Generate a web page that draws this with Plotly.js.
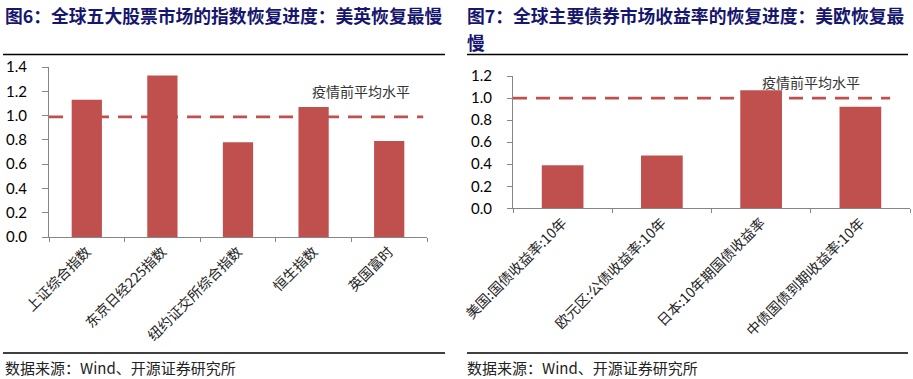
<!DOCTYPE html>
<html>
<head>
<meta charset="utf-8">
<script src="https://cdn.plot.ly/plotly-3.0.1.min.js"></script>
<style>html,body{margin:0;padding:0;background:#fff;}#chart{width:913px;height:379px;}</style>
</head>
<body>
<div id="chart"></div>
<script>
// ---- data ----
const stockCategories = ["上证综合指数", "东京日经225指数", "纽约证交所综合指数", "恒生指数", "英国富时"];
const stockValues = [1.13, 1.33, 0.78, 1.07, 0.79];
const stockPreLevel = 0.99;

const bondCategories = ["美国:国债收益率:10年", "欧元区:公债收益率:10年", "日本:10年期国债收益率", "中债国债到期收益率:10年"];
const bondValues = [0.39, 0.48, 1.07, 0.92];
const bondPreLevel = 1.0;

const title6 = "图6：全球五大股票市场的指数恢复进度：美英恢复最慢";
const title7a = "图7：全球主要债券市场收益率的恢复进度：美欧恢复最";
const title7b = "慢";
const sourceText = "数据来源：Wind、开源证券研究所";
const refLabel = "疫情前平均水平";

// ---- style ----
const W = 913, H = 379;
const barColor = "#C0504D";
const cjk = "'Noto Sans CJK SC', sans-serif";
const num = "Lato, 'Open Sans', sans-serif";
const py = p => 1 - p / H;   // pixel y -> paper
const px = p => p / W;       // pixel x -> paper

const axisCommon = {
  showgrid: false, zeroline: false, showline: true, linecolor: "#868686", linewidth: 1,
  ticks: "outside", tickcolor: "#868686", ticklen: 5, fixedrange: true
};

const traces = [
  { type: "bar", x: stockCategories, y: stockValues, xaxis: "x", yaxis: "y",
    marker: { color: barColor }, width: 0.4, hoverinfo: "x+y" },
  { type: "bar", x: bondCategories, y: bondValues, xaxis: "x2", yaxis: "y2",
    marker: { color: barColor }, width: 0.42, hoverinfo: "x+y" }
];

const layout = {
  width: W, height: H, margin: { l: 0, r: 0, t: 0, b: 0 },
  paper_bgcolor: "#fff", plot_bgcolor: "#fff", showlegend: false,
  bargap: 0.6,
  xaxis: Object.assign({}, axisCommon, {
    domain: [px(49), px(427)], anchor: "y", type: "category", tickson: "boundaries",
    tickangle: -45, tickfont: { family: cjk, size: 14, color: "#222" }, ticklen: 4
  }),
  yaxis: Object.assign({}, axisCommon, {
    domain: [py(237), py(67)], anchor: "x", range: [0, 1.4], dtick: 0.2, tickformat: ".1f",
    tickfont: { family: num, size: 15, color: "#000" }, ticklen: 6, ticklabelstandoff: 12
  }),
  xaxis2: Object.assign({}, axisCommon, {
    domain: [px(513), px(910)], anchor: "y2", type: "category", tickson: "boundaries",
    tickangle: -45, tickfont: { family: cjk, size: 14, color: "#222" }, ticklen: 4
  }),
  yaxis2: Object.assign({}, axisCommon, {
    domain: [py(208.3), py(76)], anchor: "x2", range: [0, 1.2], dtick: 0.2, tickformat: ".1f",
    tickfont: { family: num, size: 15, color: "#000" }, ticklen: 5, ticklabelstandoff: 12
  }),
  shapes: [
    // reference dashed lines
    { type: "line", xref: "x domain", yref: "y", x0: 0, x1: 0.99, y0: stockPreLevel, y1: stockPreLevel,
      line: { color: barColor, width: 2.7, dash: "14px,9px" } },
    { type: "line", xref: "x2 domain", yref: "y2", x0: 0, x1: 0.95, y0: bondPreLevel, y1: bondPreLevel,
      line: { color: barColor, width: 2.7, dash: "14px,9px" } },
    // rules
    { type: "line", xref: "paper", yref: "paper", x0: px(3), x1: px(445), y0: py(54.5), y1: py(54.5), line: { color: "#000", width: 1.5 } },
    { type: "line", xref: "paper", yref: "paper", x0: px(467), x1: px(908), y0: py(54.5), y1: py(54.5), line: { color: "#000", width: 1.5 } },
    { type: "line", xref: "paper", yref: "paper", x0: px(3), x1: px(445), y0: py(353), y1: py(353), line: { color: "#000", width: 1.5 } },
    { type: "line", xref: "paper", yref: "paper", x0: px(467), x1: px(908), y0: py(353), y1: py(353), line: { color: "#000", width: 1.5 } }
  ],
  annotations: [
    { text: title6, xref: "paper", yref: "paper", x: px(3), y: py(15), xanchor: "left", yanchor: "middle",
      showarrow: false, font: { family: cjk, size: 17.8, color: "#16166e", weight: "bold" } },
    { text: title7a, xref: "paper", yref: "paper", x: px(465), y: py(15), xanchor: "left", yanchor: "middle",
      showarrow: false, font: { family: cjk, size: 17.8, color: "#16166e", weight: "bold" } },
    { text: title7b, xref: "paper", yref: "paper", x: px(465), y: py(42), xanchor: "left", yanchor: "middle",
      showarrow: false, font: { family: cjk, size: 17.8, color: "#16166e", weight: "bold" } },
    { text: sourceText, xref: "paper", yref: "paper", x: px(3), y: py(367), xanchor: "left", yanchor: "middle",
      showarrow: false, font: { family: cjk, size: 15, color: "#222" } },
    { text: sourceText, xref: "paper", yref: "paper", x: px(465), y: py(367), xanchor: "left", yanchor: "middle",
      showarrow: false, font: { family: cjk, size: 15, color: "#222" } },
    { text: refLabel, xref: "x domain", yref: "y", x: 0.825, y: 1.2, xanchor: "center", yanchor: "middle",
      showarrow: false, font: { family: cjk, size: 14, color: "#333" } },
    { text: refLabel, xref: "x2 domain", yref: "y2", x: 0.75, y: 1.148, xanchor: "center", yanchor: "middle",
      showarrow: false, font: { family: cjk, size: 14, color: "#333" } }
  ]
};

Plotly.newPlot("chart", traces, layout, { displayModeBar: false, staticPlot: true });
</script>
</body>
</html>
